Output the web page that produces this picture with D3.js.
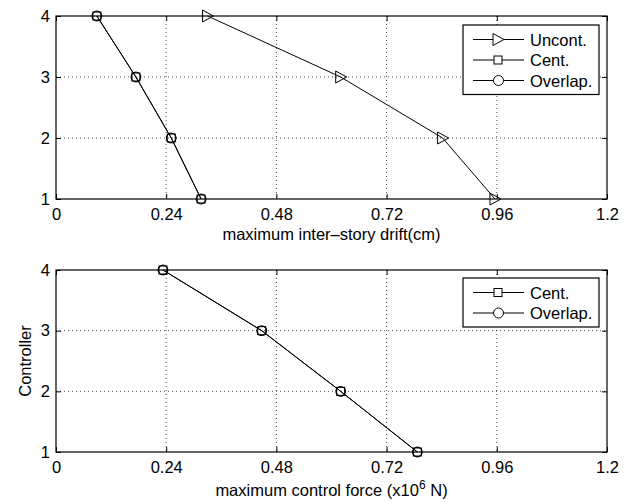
<!DOCTYPE html>
<html>
<head>
<meta charset="utf-8">
<script src="https://cdn.jsdelivr.net/npm/d3@7"></script>
<style>
  body { margin: 0; background: #fff; }
  text { font-family: "Liberation Sans", Arial, Helvetica, sans-serif; fill: #000; }
</style>
</head>
<body>
<div id="chart"></div>
<script>
// controller index (y)
var levels = [4, 3, 2, 1];
var xTicks = [0, 0.24, 0.48, 0.72, 0.96, 1.2];
var yTicks = [1, 2, 3, 4];

// top panel: maximum inter-story drift (cm)
var driftUncont = [0.33, 0.62, 0.842, 0.956];
var driftCent = [0.089, 0.174, 0.251, 0.316];
var driftOverlap = [0.089, 0.174, 0.251, 0.316];

// bottom panel: maximum control force (x10^6 N)
var forceCent = [0.233, 0.448, 0.62, 0.787];
var forceOverlap = [0.233, 0.448, 0.62, 0.787];

var W = 630, H = 502;
var FS = 16.5;
var svg = d3.select("#chart").append("svg")
  .attr("width", W).attr("height", H);

var left = 56, right = 607;
var x = d3.scaleLinear().domain([0, 1.2]).range([left, right]);

function marker(g, type, cx, cy) {
  if (type == "tri") {
    g.append("path")
      .attr("d", "M" + (cx - 5) + "," + (cy - 6) + "L" + (cx + 6) + "," + cy + "L" + (cx - 5) + "," + (cy + 6) + "Z")
      .attr("fill", "none").attr("stroke", "#000").attr("stroke-width", 1);
  } else if (type == "sq") {
    g.append("rect")
      .attr("x", cx - 4).attr("y", cy - 4).attr("width", 8).attr("height", 8)
      .attr("fill", "none").attr("stroke", "#000").attr("stroke-width", 1);
  } else {
    g.append("circle")
      .attr("cx", cx).attr("cy", cy).attr("r", 4.8)
      .attr("fill", "none").attr("stroke", "#000").attr("stroke-width", 1.2);
  }
}

function panel(top, bottom, series, legendBox, xlabel, xlabelY, ylabel) {
  var y = d3.scaleLinear().domain([1, 4]).range([bottom, top]);
  var g = svg.append("g");

  // grid
  g.selectAll(".gx").data(xTicks.slice(1, -1)).enter().append("line")
    .attr("x1", d => x(d)).attr("x2", d => x(d))
    .attr("y1", top).attr("y2", bottom)
    .attr("stroke", "#000").attr("stroke-width", 0.7)
    .attr("stroke-dasharray", "1,3");
  g.selectAll(".gy").data(yTicks.slice(1, -1)).enter().append("line")
    .attr("x1", left).attr("x2", right)
    .attr("y1", d => y(d)).attr("y2", d => y(d))
    .attr("stroke", "#000").attr("stroke-width", 0.7)
    .attr("stroke-dasharray", "1,3");

  // axes (ticks inward)
  var xb = d3.axisBottom(x).tickValues(xTicks).tickSize(-5).tickPadding(9)
    .tickFormat(d => d == 0 ? "0" : d3.format("")(d));
  var xt = d3.axisTop(x).tickValues(xTicks).tickSize(-5).tickFormat("");
  var yl = d3.axisLeft(y).tickValues(yTicks).tickSize(-5).tickPadding(6).tickFormat(d3.format("d"));
  var yr = d3.axisRight(y).tickValues(yTicks).tickSize(-5).tickFormat("");

  [[xb, "translate(0," + bottom + ")"], [xt, "translate(0," + top + ")"],
   [yl, "translate(" + left + ",0)"], [yr, "translate(" + right + ",0)"]].forEach(function (a) {
    var ag = g.append("g").attr("transform", a[1]).call(a[0]);
    ag.attr("font-size", FS).attr("font-family", null);
    ag.select(".domain").remove();
    ag.selectAll("line").attr("stroke", "#000").attr("stroke-width", 1);
  });

  g.append("rect").attr("x", left).attr("y", top)
    .attr("width", right - left).attr("height", bottom - top)
    .attr("fill", "none").attr("stroke", "#000").attr("stroke-width", 1.2);

  var line = d3.line().x(d => x(d[0])).y(d => y(d[1]));
  series.forEach(function (s) {
    var pts = s.values.map((v, i) => [v, levels[i]]);
    g.append("path").attr("d", line(pts))
      .attr("fill", "none").attr("stroke", "#000").attr("stroke-width", 1);
    pts.forEach(p => marker(g, s.marker, x(p[0]), y(p[1])));
  });

  // legend
  var lg = g.append("g");
  var lh = 20.5;
  lg.append("rect").attr("x", legendBox[0]).attr("y", legendBox[1])
    .attr("width", legendBox[2]).attr("height", series.length * lh + 8)
    .attr("fill", "#fff").attr("stroke", "#000").attr("stroke-width", 1.2);
  series.forEach(function (s, i) {
    var cy = legendBox[1] + 14.5 + i * lh;
    var lx = legendBox[0] + 10;
    lg.append("line").attr("x1", lx).attr("x2", lx + 51)
      .attr("y1", cy).attr("y2", cy).attr("stroke", "#000").attr("stroke-width", 1);
    var mg = lg.append("g");
    if (s.marker == "tri") {
      mg.append("path")
        .attr("d", "M" + (lx + 20) + "," + (cy - 6) + "L" + (lx + 31) + "," + cy + "L" + (lx + 20) + "," + (cy + 6) + "Z")
        .attr("fill", "#fff").attr("stroke", "#000");
    } else if (s.marker == "sq") {
      mg.append("rect").attr("x", lx + 21).attr("y", cy - 4).attr("width", 8).attr("height", 8)
        .attr("fill", "#fff").attr("stroke", "#000");
    } else {
      mg.append("circle").attr("cx", lx + 25.5).attr("cy", cy).attr("r", 5)
        .attr("fill", "#fff").attr("stroke", "#000");
    }
    lg.append("text").attr("x", lx + 57).attr("y", cy + 6)
      .attr("font-size", FS).text(s.name);
  });

  var xl = g.append("text").attr("x", (left + right) / 2).attr("y", xlabelY)
    .attr("text-anchor", "middle").attr("font-size", FS);
  xlabel(xl);

  if (ylabel) {
    g.append("text").attr("transform", "translate(31," + ((top + bottom) / 2) + ") rotate(-90)")
      .attr("text-anchor", "middle").attr("font-size", FS).text(ylabel);
  }
}

panel(16, 199, [
  { name: "Uncont.", marker: "tri", values: driftUncont },
  { name: "Cent.", marker: "sq", values: driftCent },
  { name: "Overlap.", marker: "circ", values: driftOverlap }
], [463, 25, 136], function (t) { t.text("maximum inter\u2013story drift(cm)"); }, 240, null);

panel(270, 452, [
  { name: "Cent.", marker: "sq", values: forceCent },
  { name: "Overlap.", marker: "circ", values: forceOverlap }
], [463, 278, 136], function (t) {
  t.append("tspan").text("maximum control force (x10");
  t.append("tspan").attr("dy", -7).attr("font-size", 12).text("6");
  t.append("tspan").attr("dy", 7).text(" N)");
}, 496, "Controller");
</script>
</body>
</html>
